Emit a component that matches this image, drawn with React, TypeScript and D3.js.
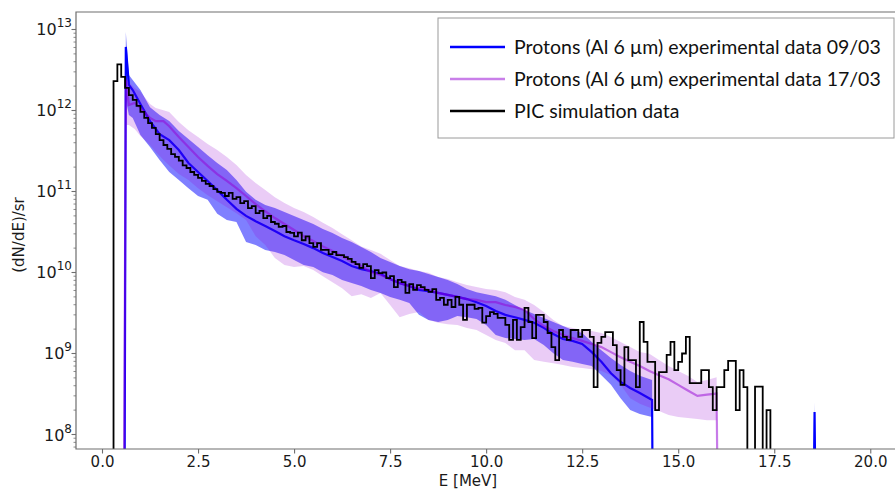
import { useEffect, useRef } from 'react';
import * as d3 from 'd3';

const width = 895;
const height = 489;
const [mt, ml] = [12, 76];
const plotRight = 901;
const plotBottom = 449;

// PIC simulation histogram, 0.1 MeV bins starting at 0.3 MeV
const picStart = 0.3;
const picBin = 0.1;
const picValues = [
    2.3e12, 3.7e12, 2.6e12, 1.9e12, 1.55e12, 1.35e12, 1.14e12, 9.6e11, 8.1e11, 7.0e11,
    6.1e11, 5.1e11, 4.3e11, 3.75e11, 3.35e11, 2.9e11, 2.67e11, 2.4e11, 2.1e11, 1.95e11,
    1.74e11, 1.6e11, 1.47e11, 1.35e11, 1.24e11, 1.17e11, 1.07e11, 9.9e10, 9.6e10, 8.8e10,
    9.6e10, 8.1e10, 8.5e10, 7.2e10, 7.6e10, 6.25e10, 6.6e10, 5.4e10, 5.75e10, 4.7e10,
    5.0e10, 4.2e10, 4.0e10, 3.65e10, 3.75e10, 3.16e10, 3.08e10, 2.8e10, 3.1e10, 2.5e10,
    2.8e10, 2.3e10, 2.07e10, 2.3e10, 1.9e10, 1.9e10, 1.69e10, 1.79e10, 1.64e10, 1.64e10,
    1.55e10, 1.47e10, 1.35e10, 1.27e10, 1.14e10, 1.27e10, 1.2e10, 8.5e9, 1.07e10, 9.8e9,
    1.0e10, 8.5e9, 9.0e9, 6.6e9, 8.1e9, 7.6e9, 5.6e9, 7.2e9, 6.1e9, 7.0e9,
    6.6e9, 6.1e9, 5.75e9, 6.25e9, 4.6e9, 4.85e9, 4.0e9, 4.6e9, 3.75e9, 5.0e9,
    4.0e9, 2.6e9, 4.0e9, 4.0e9, 3.55e9, 3.65e9, 2.4e9, 2.9e9, 3.25e9, 3.08e9,
    2.75e9, 2.75e9, 2.25e9, 1.47e9, 2.6e9, 1.47e9, 2.12e9, 3.65e9, 2.45e9, 1.55e9,
    3.0e9, 3.0e9, 2.45e9, 1.79e9, 1.2e9, 8.3e8, 1.95e9, 1.6e9, 1.47e9, 1.95e9,
    1.95e9, 1.6e9, 1.95e9, 1.95e9, 1.6e9, 3.85e8, 1.35e9, 1.6e9, 1.84e9, 1.84e9,
    1.27e9, 6.25e8, 4.1e8, 1.2e9, 8.3e8, 8.3e8, 3.85e8, 2.45e9, 1.39e9, 7.9e8,
    7.9e8, 2.0e8, 5.9e8, 5.9e8, 9.6e8, 1.39e9, 6.25e8, 7.9e8, 1.0e9, 1.6e9,
    4.3e8, 4.3e8, 4.3e8, 6.25e8, 6.25e8, 3.85e8, 2.0e8, 3.85e8, 3.85e8, 6.25e8,
    8.1e8, 8.1e8, 2.0e8, 6.25e8, 3.85e8, 0, 0, 3.9e8, 3.9e8, 0,
    2.0e8
];

// experimental data 09/03 (blue)
const blueE = [
    0.58, 0.62, 0.7, 0.8, 1.0, 1.25, 1.5, 1.75, 2.0, 2.25, 2.5, 2.75, 3.0, 3.25, 3.5, 3.75,
    4.0, 4.25, 4.5, 4.75, 5.0, 5.25, 5.5, 5.75, 6.0, 6.25, 6.5, 6.75, 7.0, 7.25, 7.5, 7.75,
    8.0, 8.25, 8.5, 8.75, 9.0, 9.25, 9.5, 9.75, 10.0, 10.25, 10.5, 10.75, 11.0, 11.25, 11.5, 11.75,
    12.0, 12.25, 12.5, 12.75, 13.0, 13.25, 13.5, 13.75, 14.0, 14.32, 14.35, 18.5, 18.55, 18.6
];
const blueVal = [
    0, 6.1e12, 2.07e12, 1.79e12, 1.2e12, 7.4e11, 5.1e11, 4.3e11, 3.25e11, 2.25e11, 1.74e11, 1.35e11, 1.04e11, 7.9e10, 6.1e10, 5.0e10,
    4.3e10, 3.75e10, 3.25e10, 2.8e10, 2.5e10, 2.25e10, 2.0e10, 1.74e10, 1.55e10, 1.39e10, 1.2e10, 1.1e10, 1.04e10, 9.6e9, 8.3e9, 7.4e9,
    6.8e9, 6.1e9, 5.9e9, 5.6e9, 5.3e9, 5.0e9, 4.7e9, 4.3e9, 3.85e9, 3.35e9, 3.0e9, 2.8e9, 2.6e9, 2.4e9, 2.07e9, 1.74e9,
    1.51e9, 1.43e9, 1.31e9, 1.04e9, 7.9e8, 5.7e8, 4.45e8, 3.75e8, 3.25e8, 2.67e8, 0, 0, 1.9e8, 0
];
const blueLow = [
    0, 1.35e12, 8.8e11, 8.1e11, 5.0e11, 3.55e11, 2.45e11, 1.74e11, 1.39e11, 1.1e11, 8.8e10, 7.9e10, 5.3e10, 4.45e10, 4.2e10, 2.38e10,
    2.18e10, 1.9e10, 1.79e10, 1.64e10, 1.43e10, 1.24e10, 1.17e10, 1.01e10, 9.3e9, 8.1e9, 7.4e9, 6.8e9, 6.1e9, 5.6e9, 5.0e9, 4.6e9,
    4.2e9, 3.0e9, 2.6e9, 2.45e9, 2.6e9, 2.9e9, 2.8e9, 2.67e9, 2.25e9, 1.69e9, 1.55e9, 1.51e9, 1.47e9, 1.51e9, 1.27e9, 1.01e9,
    8.3e8, 7.9e8, 7.4e8, 7.0e8, 5.4e8, 4.1e8, 2.8e8, 2.0e8, 1.79e8, 1.64e8, 0, 0, 0, 0
];
const blueHigh = [
    0, 9.3e12, 2.74e12, 2.38e12, 1.79e12, 1.1e12, 8.8e11, 7.4e11, 5.6e11, 4.45e11, 3.55e11, 2.8e11, 2.25e11, 1.84e11, 1.39e11, 9.9e10,
    7.9e10, 6.8e10, 6.25e10, 5.6e10, 5.0e10, 4.45e10, 3.97e10, 3.44e10, 3.07e10, 2.67e10, 2.38e10, 2.07e10, 1.79e10, 1.51e10, 1.35e10, 1.2e10,
    1.1e10, 1.04e10, 9.6e9, 8.8e9, 8.1e9, 7.2e9, 6.25e9, 5.7e9, 5.4e9, 5.1e9, 4.6e9, 3.97e9, 3.44e9, 3.07e9, 2.74e9, 2.45e9,
    2.18e9, 1.95e9, 1.79e9, 1.39e9, 1.1e9, 8.8e8, 7.2e8, 6.1e8, 5.3e8, 4.7e8, 0, 0, 2.5e8, 0
];

// experimental data 17/03 (violet)
const violetE = [
    0.56, 0.62, 0.7, 0.85, 1.0, 1.25, 1.4, 1.6, 1.75, 2.0, 2.25, 2.5, 2.75, 3.0, 3.25, 3.5, 3.75,
    4.0, 4.25, 4.5, 4.75, 5.0, 5.25, 5.5, 5.75, 6.0, 6.25, 6.5, 6.75, 7.0, 7.25, 7.5, 7.75,
    8.0, 8.25, 8.5, 8.75, 9.0, 9.25, 9.5, 9.75, 10.0, 10.25, 10.5, 10.75, 11.0, 11.25, 11.5, 11.75,
    12.0, 12.25, 12.5, 12.75, 13.0, 13.25, 13.5, 13.75, 14.0, 14.25, 14.5, 14.75, 15.0, 15.25, 15.5, 15.75,
    16.0, 16.05
];
const violetVal = [
    0, 2.38e12, 1.17e12, 1.24e12, 1.08e12, 8.1e11, 7.4e11, 7.4e11, 6.4e11, 4.7e11, 3.55e11, 2.67e11, 2.07e11, 1.64e11, 1.35e11, 1.1e11, 8.8e10,
    7.0e10, 5.7e10, 4.7e10, 3.97e10, 3.35e10, 2.8e10, 2.45e10, 2.1e10, 1.84e10, 1.6e10, 1.35e10, 1.2e10, 1.01e10, 9.3e9, 8.3e9, 7.4e9,
    6.8e9, 6.4e9, 6.1e9, 5.6e9, 5.3e9, 5.0e9, 4.7e9, 4.6e9, 4.3e9, 4.3e9, 3.97e9, 3.75e9, 3.44e9, 2.67e9, 2.18e9, 1.9e9,
    1.69e9, 1.55e9, 1.43e9, 1.31e9, 1.2e9, 1.04e9, 9.0e8, 7.9e8, 7.0e8, 6.1e8, 5.4e8, 4.8e8, 4.1e8, 3.5e8, 3.0e8, 3.1e8,
    3.2e8, 0
];
const violetLow = [
    0, 6.6e11, 6.6e11, 5.9e11, 4.85e11, 3.75e11, 3.07e11, 2.45e11, 2.1e11, 1.64e11, 1.39e11, 1.1e11, 9.0e10, 7.6e10, 6.4e10, 5.4e10, 4.45e10,
    2.8e10, 2.18e10, 1.51e10, 1.24e10, 1.17e10, 1.2e10, 1.07e10, 9.0e9, 7.6e9, 6.4e9, 5.1e9, 5.4e9, 4.85e9, 5.6e9, 3.97e9, 2.8e9,
    3.07e9, 3.25e9, 2.6e9, 2.4e9, 2.3e9, 2.25e9, 2.07e9, 1.95e9, 1.69e9, 1.47e9, 1.35e9, 1.1e9, 1.1e9, 8.3e8, 7.9e8, 7.6e8,
    7.2e8, 6.8e8, 6.6e8, 6.4e8, 6.1e8, 5.4e8, 4.1e8, 2.8e8, 2.4e8, 2.15e8, 1.95e8, 1.74e8, 1.64e8, 1.6e8, 1.55e8, 1.5e8,
    1.5e8, 0
];
const violetHigh = [
    0, 2.52e12, 2.25e12, 1.9e12, 1.7e12, 1.2e12, 1.07e12, 1.01e12, 9.6e11, 7.2e11, 5.7e11, 4.7e11, 3.85e11, 3.25e11, 2.67e11, 2.12e11, 1.6e11,
    1.27e11, 1.04e11, 8.5e10, 7.2e10, 6.25e10, 5.6e10, 4.85e10, 4.1e10, 3.55e10, 2.97e10, 2.5e10, 2.1e10, 1.9e10, 1.7e10, 1.43e10, 1.2e10,
    1.13e10, 1.04e10, 9.9e9, 8.8e9, 8.3e9, 7.6e9, 7.0e9, 6.6e9, 6.25e9, 6.1e9, 5.7e9, 5.0e9, 4.6e9, 3.97e9, 3.25e9, 2.6e9,
    2.18e9, 2.07e9, 1.95e9, 1.9e9, 1.79e9, 1.6e9, 1.39e9, 1.2e9, 1.04e9, 9.9e8, 8.3e8, 7.0e8, 6.1e8, 5.3e8, 4.45e8, 4.7e8,
    5.1e8, 0
];

const xTicks = [0, 2.5, 5, 7.5, 10, 12.5, 15, 17.5, 20];
const yTickExps = [8, 9, 10, 11, 12, 13];
const legendLabels = [
    'Protons (Al 6 \u00b5m) experimental data 09/03',
    'Protons (Al 6 \u00b5m) experimental data 17/03',
    'PIC simulation data'
];
const legendColors = ['#0000ff', 'rgba(148, 0, 211, 0.5)', '#000000'];

export default function App() {
    const chart = useRef<SVGSVGElement>(null);

    useEffect(() => {
        const svg = d3.select(chart.current);
        svg.selectAll('*').remove();

        const x = d3.scaleLinear().domain([-0.677, 20.8]).range([ml, plotRight]);
        const y = d3.scaleLog().domain([10 ** 7.821, 10 ** 13.216]).range([plotBottom, mt]);
        // zero counts fall below the axis, like matplotlib's log clipping
        const safe = (v: number) => (v > 0 ? v : 1e6);

        svg.append('defs')
            .append('clipPath')
            .attr('id', 'plot-clip')
            .append('rect')
            .attr('x', ml)
            .attr('y', mt)
            .attr('width', plotRight - ml)
            .attr('height', plotBottom - mt);

        const graph = svg.append('g').attr('clip-path', 'url(#plot-clip)');

        const band = (es: number[], lo: number[], hi: number[]) =>
            d3
                .area<number>()
                .x((i) => x(es[i]))
                .y0((i) => y(safe(lo[i])))
                .y1((i) => y(safe(hi[i])))(d3.range(es.length));

        const curve = (es: number[], vs: number[]) =>
            d3
                .line<number>()
                .x((i) => x(es[i]))
                .y((i) => y(safe(vs[i])))(d3.range(es.length));

        // blue 09/03
        graph.append('path').attr('d', band(blueE, blueLow, blueHigh)).attr('fill', 'rgba(0, 0, 255, 0.5)');
        graph.append('path')
            .attr('d', curve(blueE, blueVal))
            .attr('fill', 'none')
            .attr('stroke', '#0000ff')
            .attr('stroke-width', 2.2);

        // violet 17/03
        graph.append('path').attr('d', band(violetE, violetLow, violetHigh)).attr('fill', 'rgba(148, 0, 211, 0.2)');
        graph.append('path')
            .attr('d', curve(violetE, violetVal))
            .attr('fill', 'none')
            .attr('stroke', 'rgba(148, 0, 211, 0.5)')
            .attr('stroke-width', 2.2);

        // PIC step histogram
        const n = picValues.length;
        const edge = (i: number) => picStart + i * picBin;
        const pts: [number, number][] = [[edge(0), 0]];
        picValues.forEach((v, i) => pts.push([edge(i), v]));
        pts.push([edge(n), picValues[n - 1]]);
        pts.push([edge(n), 0]);
        graph.append('path')
            .attr(
                'd',
                d3
                    .line<[number, number]>()
                    .curve(d3.curveStepAfter)
                    .x((d) => x(d[0]))
                    .y((d) => y(safe(d[1])))(pts)
            )
            .attr('fill', 'none')
            .attr('stroke', '#000')
            .attr('stroke-width', 1.8);

        // spines
        const axisColor = '#6e6e6e';
        svg.append('path')
            .attr('d', `M${ml},${mt}H${plotRight}V${plotBottom}H${ml}Z`)
            .attr('fill', 'none')
            .attr('stroke', axisColor)
            .attr('stroke-width', 1.2);

        const font = "'DejaVu Sans', sans-serif";

        // x axis
        const xAxisG = svg.append('g').attr('transform', `translate(0,${plotBottom})`);
        xAxisG
            .call(d3.axisBottom(x).tickValues(xTicks).tickFormat(d3.format('.1f')).tickSize(4.5).tickPadding(3))
            .call((g) => g.select('.domain').remove())
            .call((g) => g.selectAll('.tick line').attr('stroke', axisColor).attr('stroke-width', 1.1))
            .call((g) =>
                g.selectAll('.tick text').attr('font-family', font).attr('font-size', 15).attr('fill', '#1a1a1a')
            );

        // y axis: major ticks with 10^n labels, minor ticks 2..9
        const yAxisG = svg.append('g');
        yTickExps.forEach((e) => {
            const yy = y(10 ** e);
            yAxisG.append('line')
                .attr('x1', ml - 4.5)
                .attr('x2', ml)
                .attr('y1', yy)
                .attr('y2', yy)
                .attr('stroke', axisColor)
                .attr('stroke-width', 1.1);
            const t = yAxisG.append('text')
                .attr('x', ml - 4)
                .attr('y', yy + 6)
                .attr('text-anchor', 'end')
                .attr('font-family', font)
                .attr('font-size', 16)
                .attr('fill', '#1a1a1a')
                .text('10');
            t.append('tspan').attr('dy', -8).attr('font-size', 12).text(String(e));
        });
        const [lo, hi] = y.domain();
        for (let e = 7; e <= 13; e++) {
            for (let k = 2; k <= 9; k++) {
                const v = k * 10 ** e;
                if (v < lo || v > hi) continue;
                yAxisG.append('line')
                    .attr('x1', ml - 2.5)
                    .attr('x2', ml)
                    .attr('y1', y(v))
                    .attr('y2', y(v))
                    .attr('stroke', axisColor)
                    .attr('stroke-width', 0.8);
            }
        }

        // axis labels
        svg.append('text')
            .attr('x', 468)
            .attr('y', 486)
            .attr('text-anchor', 'middle')
            .attr('font-family', font)
            .attr('font-size', 15)
            .attr('fill', '#1a1a1a')
            .text('E [MeV]');
        svg.append('text')
            .attr('transform', `translate(24,235) rotate(-90)`)
            .attr('text-anchor', 'middle')
            .attr('font-family', font)
            .attr('font-size', 15)
            .attr('fill', '#1a1a1a')
            .text('(dN/dE)/sr');

        // legend
        const legend = svg.append('g').attr('transform', 'translate(438,18)');
        legend.append('rect')
            .attr('width', 456)
            .attr('height', 120)
            .attr('fill', '#fff')
            .attr('stroke', '#9a9a9a')
            .attr('stroke-width', 1);
        legendLabels.forEach((label, i) => {
            const ly = 29 + i * 32;
            legend.append('line')
                .attr('x1', 12)
                .attr('x2', 67)
                .attr('y1', ly)
                .attr('y2', ly)
                .attr('stroke', legendColors[i])
                .attr('stroke-width', 2.4);
            legend.append('text')
                .attr('x', 76)
                .attr('y', ly + 6.5)
                .attr('font-family', 'Lato, sans-serif')
                .attr('font-size', 19.5)
                .attr('fill', '#111')
                .text(label);
        });
    }, []);

    return (
        <svg
            ref={chart}
            width={width}
            height={height}
            viewBox={`0 0 ${width} ${height}`}
            style={{ position: 'absolute', left: 0, top: 0, background: '#fff' }}
        />
    );
}
